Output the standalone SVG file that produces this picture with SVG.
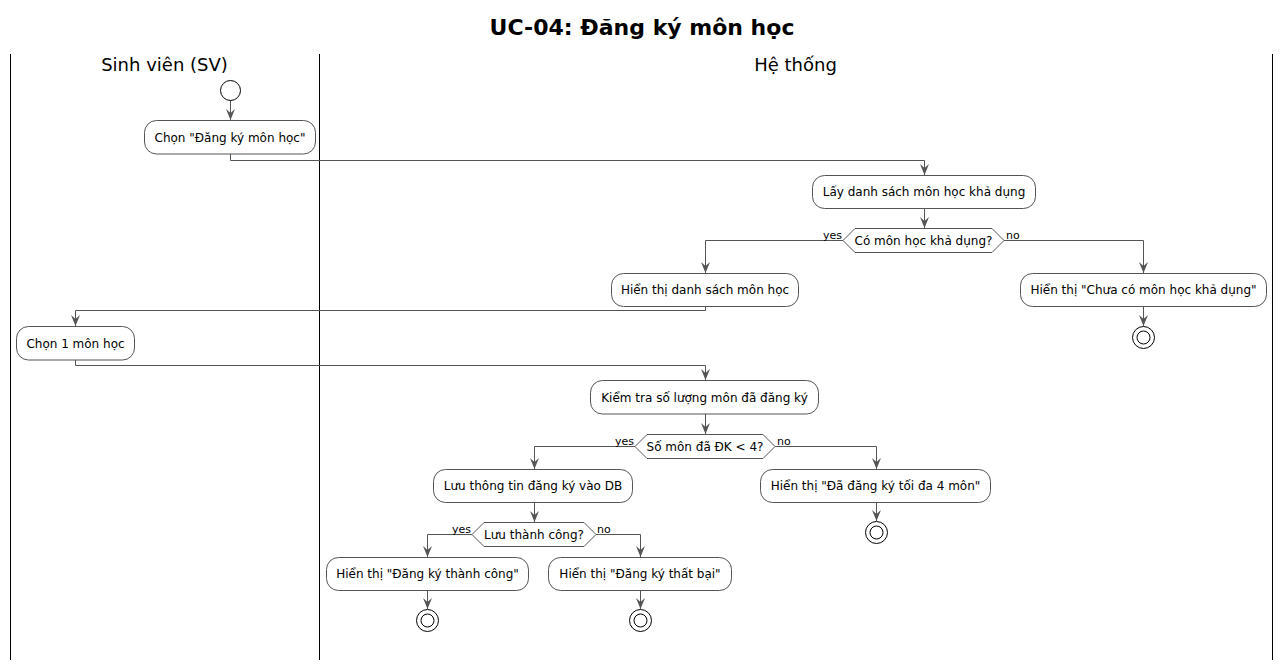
<svg xmlns="http://www.w3.org/2000/svg" width="1284" height="666" viewBox="0 0 1284 666">
<style>
text{font-family:"DejaVu Sans",Verdana,sans-serif;fill:#000}
.title{font-size:22px;font-weight:bold}
.lane{font-size:18px}
.act rect{fill:#fff;stroke:#555;stroke-width:1}
.act text,.dec text{font-size:12px;text-anchor:middle}
.dec polygon{fill:#fff;stroke:#555;stroke-width:1}
.lbl{font-size:11px}
.conn path{fill:none;stroke:#555;stroke-width:1}
.ah{fill:#555;stroke:none}
.sw{stroke:#000;stroke-width:1}
.end circle{fill:#fff;stroke:#000;stroke-width:1}
</style>
<defs>
<polygon id="ah" class="ah" points="-4.5,-11 0,0 4.5,-11 0,-7"/>
</defs>
<rect width="1284" height="666" fill="#fff"/>
<text class="title" x="642" y="35" text-anchor="middle">UC-04: Đăng ký môn học</text>
<g id="swimlanes">
<line class="sw" x1="10.5" y1="54" x2="10.5" y2="660"/>
<line class="sw" x1="319.5" y1="54" x2="319.5" y2="660"/>
<line class="sw" x1="1272.5" y1="54" x2="1272.5" y2="660"/>
<text class="lane" x="164.5" y="71" text-anchor="middle">Sinh viên (SV)</text>
<text class="lane" x="795.5" y="71" text-anchor="middle">Hệ thống</text>
</g>
<g id="connectors" class="conn">
<path d="M230.5 101V120"/><use href="#ah" x="230.5" y="120"/>
<path d="M230.5 154V160.5H924.5V175"/><use href="#ah" x="924.5" y="175"/>
<path d="M924.5 208V228"/><use href="#ah" x="924.5" y="228"/>
<path d="M843 240.5H705.5V273"/><use href="#ah" x="705.5" y="273"/>
<path d="M1004 240.5H1143.5V273"/><use href="#ah" x="1143.5" y="273"/>
<path d="M1143.5 306V326"/><use href="#ah" x="1143.5" y="326"/>
<path d="M705.5 306V310.5H75.5V326"/><use href="#ah" x="75.5" y="326"/>
<path d="M75.5 360V365.5H705.5V380"/><use href="#ah" x="705.5" y="380"/>
<path d="M705.5 414V434"/><use href="#ah" x="705.5" y="434"/>
<path d="M635 446.5H534.5V469"/><use href="#ah" x="534.5" y="469"/>
<path d="M775 446.5H876.5V469"/><use href="#ah" x="876.5" y="469"/>
<path d="M876.5 502V521"/><use href="#ah" x="876.5" y="521"/>
<path d="M534.5 502V522"/><use href="#ah" x="534.5" y="522"/>
<path d="M472 534.5H427.5V557"/><use href="#ah" x="427.5" y="557"/>
<path d="M596 534.5H640.5V557"/><use href="#ah" x="640.5" y="557"/>
<path d="M427.5 590V609"/><use href="#ah" x="427.5" y="609"/>
<path d="M640.5 590V609"/><use href="#ah" x="640.5" y="609"/>
<text class="lbl" x="823" y="239">yes</text>
<text class="lbl" x="1006" y="239">no</text>
<text class="lbl" x="615" y="445">yes</text>
<text class="lbl" x="777" y="445">no</text>
<text class="lbl" x="452" y="533">yes</text>
<text class="lbl" x="597" y="533">no</text>
</g>
<g id="start"><circle cx="230.5" cy="90.5" r="10" fill="#fff" stroke="#000"/></g>
<g id="a1" class="act"><rect x="144.5" y="120.5" width="171" height="33.5" rx="12"/><text x="230" y="141.5">Chọn "Đăng ký môn học"</text></g>
<g id="a2" class="act"><rect x="812.5" y="175.5" width="223" height="33" rx="12"/><text x="924" y="196">Lấy danh sách môn học khả dụng</text></g>
<g id="d1" class="dec"><polygon points="843,240.5 855,228.5 992,228.5 1004,240.5 992,252.5 855,252.5"/><text x="923.5" y="245">Có môn học khả dụng?</text></g>
<g id="a3" class="act"><rect x="611.5" y="273.5" width="187" height="33" rx="12"/><text x="705" y="294">Hiển thị danh sách môn học</text></g>
<g id="a4" class="act"><rect x="1020.5" y="273.5" width="246" height="33" rx="12"/><text x="1143.5" y="294">Hiển thị "Chưa có môn học khả dụng"</text></g>
<g id="e1" class="end"><circle cx="1143.5" cy="337.5" r="11"/><circle cx="1143.5" cy="337.5" r="6.5"/></g>
<g id="a5" class="act"><rect x="16.5" y="326.5" width="118" height="33.5" rx="12"/><text x="75.5" y="347.5">Chọn 1 môn học</text></g>
<g id="a6" class="act"><rect x="590.5" y="380.5" width="228" height="33.5" rx="12"/><text x="704.5" y="401.5">Kiểm tra số lượng môn đã đăng ký</text></g>
<g id="d2" class="dec"><polygon points="635,446.5 647,434.5 763,434.5 775,446.5 763,458.5 647,458.5"/><text x="705" y="451">Số môn đã ĐK &lt; 4?</text></g>
<g id="a7" class="act"><rect x="433.5" y="469.5" width="199" height="33" rx="12"/><text x="533" y="490">Lưu thông tin đăng ký vào DB</text></g>
<g id="a8" class="act"><rect x="760.5" y="469.5" width="230" height="33" rx="12"/><text x="875.5" y="490">Hiển thị "Đã đăng ký tối đa 4 môn"</text></g>
<g id="e2" class="end"><circle cx="876.5" cy="532.5" r="11"/><circle cx="876.5" cy="532.5" r="6.5"/></g>
<g id="d3" class="dec"><polygon points="472,534.5 484,522.5 584,522.5 596,534.5 584,546.5 484,546.5"/><text x="534" y="539">Lưu thành công?</text></g>
<g id="a9" class="act"><rect x="326.5" y="557.5" width="202" height="33" rx="12"/><text x="427.5" y="578">Hiển thị "Đăng ký thành công"</text></g>
<g id="a10" class="act"><rect x="548.5" y="557.5" width="183" height="33" rx="12"/><text x="640" y="578">Hiển thị "Đăng ký thất bại"</text></g>
<g id="e3" class="end"><circle cx="427.5" cy="620.5" r="11"/><circle cx="427.5" cy="620.5" r="6.5"/></g>
<g id="e4" class="end"><circle cx="640.5" cy="620.5" r="11"/><circle cx="640.5" cy="620.5" r="6.5"/></g>
</svg>
